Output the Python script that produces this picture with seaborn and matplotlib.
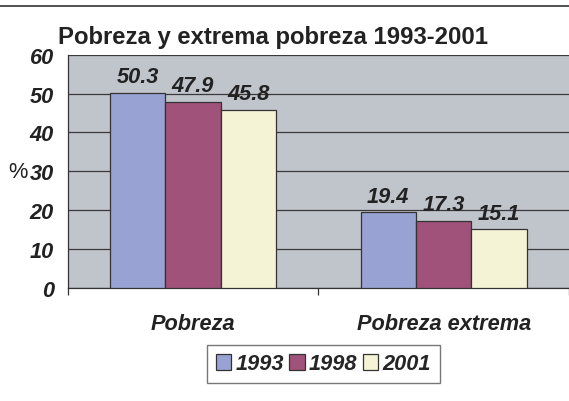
import pandas as pd
import matplotlib.pyplot as plt
import seaborn as sns
from matplotlib.lines import Line2D
from matplotlib.ticker import FixedLocator

# datos
categorias = ['Pobreza', 'Pobreza extrema']
anios = ['1993', '1998', '2001']
val_1993 = [50.3, 19.4]
val_1998 = [47.9, 17.3]
val_2001 = [45.8, 15.1]
colores = ['#99A3D3', '#A0527A', '#F4F3D5']

df = pd.DataFrame({
    'categoria': categorias * 3,
    'anio': [a for a in anios for _ in categorias],
    'valor': val_1993 + val_1998 + val_2001,
})

sns.set_style('white')
plt.rcParams['font.family'] = ['Liberation Sans', 'DejaVu Sans']

fs = 15.7

fig = plt.figure(figsize=(5.69, 4.02), dpi=100)
ax = fig.add_axes([0.119, 0.282, 0.881, 0.579])
ax.set_facecolor('#C0C4CB')

sns.barplot(data=df, x='categoria', y='valor', hue='anio', palette=colores,
            width=0.663, saturation=1, edgecolor='#333333', linewidth=0.9,
            zorder=3, ax=ax)

# etiquetas de valores
for cont in ax.containers:
    ax.bar_label(cont, fmt='%.1f', padding=4, fontsize=fs, fontweight='bold',
                 fontstyle='italic', color='#222222', zorder=4)

ax.set_ylim(0, 60)
ax.set_xlim(-0.5, 1.5)
ax.set_yticks(range(0, 61, 10))
ax.yaxis.grid(True, color='#3a3a3a', linewidth=0.9, zorder=0)
ax.set_axisbelow(True)

ax.tick_params(axis='y', length=6, width=0.9, color='#333333', pad=4,
               labelsize=fs)
ax.tick_params(axis='x', which='major', length=0, pad=18, labelsize=fs)
ax.xaxis.set_minor_locator(FixedLocator([-0.5, 0.5, 1.5]))
ax.tick_params(axis='x', which='minor', length=5, width=0.9, color='#333333',
               bottom=True)
for lab in ax.get_yticklabels() + ax.get_xticklabels():
    lab.set_fontweight('bold')
    lab.set_fontstyle('italic')
    lab.set_color('#222222')

ax.set_xlabel('')
ax.set_ylabel('')
for s in ['left', 'bottom']:
    ax.spines[s].set_color('#333333')
    ax.spines[s].set_linewidth(0.9)
for s in ['top', 'right']:
    ax.spines[s].set_visible(False)

fig.text(8 / 569, 1 - 173 / 402, '%', fontsize=fs, color='#222222',
         va='center', ha='left')

fig.text(58 / 569, 1 - 44 / 402, 'Pobreza y extrema pobreza 1993-2001',
         fontsize=17.2, fontweight='bold', color='#222222', ha='left',
         va='baseline')

fig.add_artist(Line2D([0, 1], [1 - 6.5 / 402, 1 - 6.5 / 402],
                      color='#333333', linewidth=1.2))

handles, labels = ax.get_legend_handles_labels()
ax.legend_.remove()
leg = fig.legend(handles, labels, loc='center', ncol=3,
                 bbox_to_anchor=(323.5 / 569, 1 - 365 / 402),
                 prop={'size': fs, 'weight': 'bold', 'style': 'italic'},
                 frameon=True, fancybox=False, handlelength=0.7,
                 handleheight=0.7, handletextpad=0.2, columnspacing=0.25,
                 borderpad=0.4, borderaxespad=0)
leg.get_frame().set_edgecolor('#555555')
leg.get_frame().set_linewidth(1.0)

fig.savefig('out.png', dpi=100)
